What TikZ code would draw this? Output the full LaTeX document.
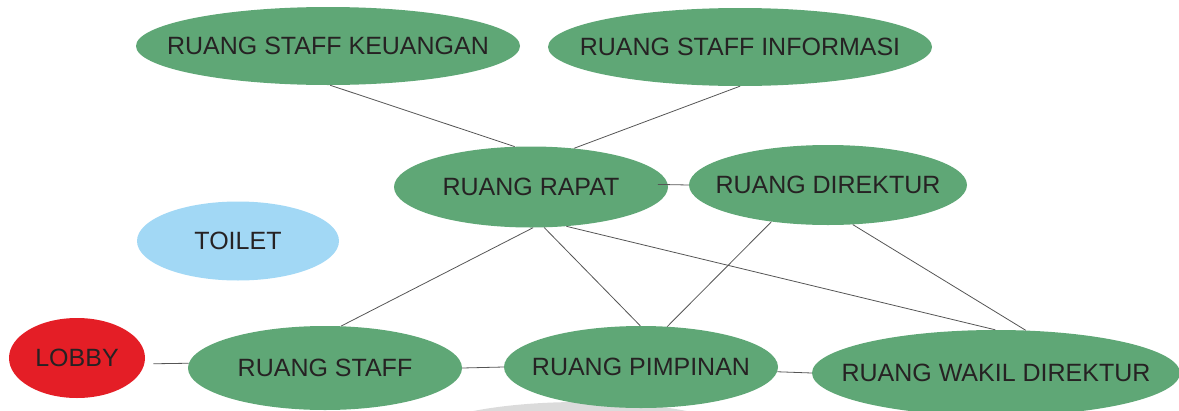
\documentclass[tikz,border=0pt]{standalone}
\usepackage{fontspec}
\setmainfont{Liberation Sans}
\usetikzlibrary{shapes.geometric}

\definecolor{roomgreen}{RGB}{95,167,118}
\definecolor{lobbyred}{RGB}{228,30,38}
\definecolor{toiletblue}{RGB}{162,216,245}
\definecolor{textdark}{RGB}{38,34,35}
\definecolor{linkgray}{RGB}{85,85,85}

\begin{document}
\begin{tikzpicture}[x=1pt,y=-1pt,
  roomtext/.style={inner sep=0pt, text=textdark,
    font=\fontsize{25}{30}\selectfont},
  room/.style={ellipse, inner sep=0pt, label={[roomtext]center:#1}},
  link/.style={draw=linkgray, line width=0.8pt}]
\useasboundingbox (0,0) rectangle (1179,410);

% soft shadow under the bottom row
\fill[gray!28] (580,440) ellipse [x radius=165pt, y radius=38pt];

% rooms
\node[room={RUANG STAFF KEUANGAN}, fill=roomgreen, minimum width=384pt, minimum height=78pt] (keu) at (328,46) {};
\node[room={RUANG STAFF INFORMASI}, fill=roomgreen, minimum width=384pt, minimum height=78pt] (info) at (740,47) {};
\node[room={RUANG RAPAT}, fill=roomgreen, minimum width=274pt, minimum height=81pt] (rapat) at (531,187) {};
\node[room={RUANG DIREKTUR}, fill=roomgreen, minimum width=278pt, minimum height=80pt] (dir) at (828,185) {};
\node[room={TOILET}, fill=toiletblue, minimum width=202pt, minimum height=79pt] (toilet) at (238,241) {};
\node[room={LOBBY}, fill=lobbyred, minimum width=136pt, minimum height=80pt] (lobby) at (77,358) {};
\node[room={RUANG STAFF}, fill=roomgreen, minimum width=274pt, minimum height=84pt] (staff) at (325,368) {};
\node[room={RUANG PIMPINAN}, fill=roomgreen, minimum width=274pt, minimum height=82pt] (pimp) at (641,367) {};
\node[room={RUANG WAKIL DIREKTUR}, fill=roomgreen, minimum width=368pt, minimum height=86pt] (wakil) at (996,373) {};

% connections
\draw[link] (keu.-87) -- (rapat.112);
\draw[link] (info.-90) -- (rapat.42);
\draw[link, shorten <=-10pt] (rapat.1) -- (dir.west);
\draw[link, shorten <=9pt] (lobby.-5) -- (staff.178);
\draw[link] (staff.east) -- (pimp.west);
\draw[link] (pimp.-2) -- (wakil.180);
\draw[link] (rapat.-87) -- (staff.69);
\draw[link] (rapat.-72) -- (pimp.91);
\draw[link] (rapat.-48) -- (wakil.91);
\draw[link] (dir.-147) -- (pimp.57);
\draw[link] (dir.-58) -- (wakil.55);
\end{tikzpicture}
\end{document}
